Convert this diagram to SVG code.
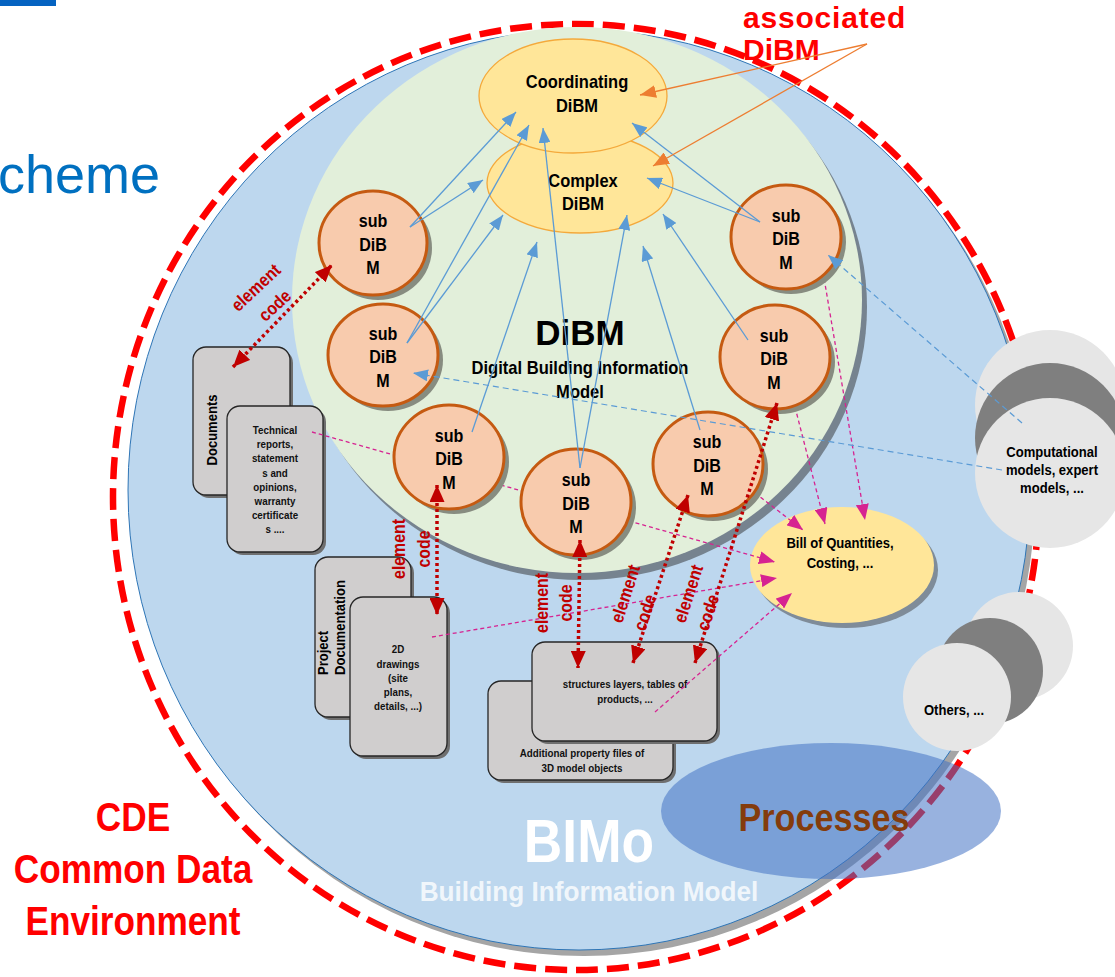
<svg xmlns="http://www.w3.org/2000/svg" width="1115" height="977" viewBox="0 0 1115 977">
<style>
text{font-family:"Liberation Sans",Arial,sans-serif;font-weight:bold}
.sub{fill:#F8CBAD;stroke:#C55A11;stroke-width:3}
.subsh{fill:#878C80}
.subt{font-size:18.5px;fill:#000;text-anchor:middle}
.box{fill:#D0CECE;stroke:#262626;stroke-width:1.3}
.boxsh{fill:#6F6F6F}
.bt{font-size:11px;fill:#111;text-anchor:middle}
.blue{stroke:#5B9BD5;stroke-width:1.3;fill:none;marker-end:url(#mb)}
.bdash{stroke:#5B9BD5;stroke-width:1.2;fill:none;stroke-dasharray:6 4;marker-end:url(#mb)}
.mag{stroke:#D62391;stroke-width:1.3;fill:none;stroke-dasharray:4 3;marker-end:url(#mm)}
.org{stroke:#ED7D31;stroke-width:1.3;fill:none;marker-end:url(#mo)}
.rdot{stroke:#C00000;stroke-width:3.5;fill:none;stroke-dasharray:3 3;marker-end:url(#mr);marker-start:url(#mr)}
.lbl{font-size:18px;fill:#C00000}
.gl{fill:#E6E6E6}
.gd{fill:#7F7F7F}
.ct{font-size:13px;fill:#000;text-anchor:middle}
.et{font-size:18.5px;fill:#000;text-anchor:middle}
</style>
<defs>
<marker id="mb" markerUnits="userSpaceOnUse" markerWidth="15" markerHeight="12" refX="15" refY="6" orient="auto"><path d="M0,0 L15,6 L0,12 z" fill="#5B9BD5"/></marker>
<marker id="mm" markerUnits="userSpaceOnUse" markerWidth="16" markerHeight="13" refX="16" refY="6.5" orient="auto"><path d="M0,0 L16,6.5 L0,13 z" fill="#D62391"/></marker>
<marker id="mo" markerUnits="userSpaceOnUse" markerWidth="16" markerHeight="13" refX="16" refY="6.5" orient="auto"><path d="M0,0 L16,6.5 L0,13 z" fill="#ED7D31"/></marker>
<marker id="mr" markerUnits="userSpaceOnUse" markerWidth="17" markerHeight="15" refX="17" refY="7.5" orient="auto-start-reverse"><path d="M0,0 L17,7.5 L0,15 z" fill="#C00000"/></marker>
</defs>

<rect x="0" y="0" width="56" height="6" fill="#0563C1"/>
<text x="-2" y="193" style="font-weight:normal;font-size:54px;fill:#0070C0">cheme</text>

<g id="bimo">
<ellipse cx="584" cy="496" rx="451" ry="460" fill="#A5A5A5"/>
<ellipse cx="579" cy="490" rx="451" ry="460" fill="#BDD7EE" stroke="#2E75B6" stroke-width="1"/>
</g>
<g id="cde">
<ellipse cx="576" cy="497" rx="463" ry="473" fill="none" stroke="#FF0000" stroke-width="6.5" stroke-dasharray="22 9"/>
</g>
<g id="bimo-label">
<text transform="translate(589,862) scale(0.86,1)" style="font-size:62px;fill:#FFFFFF;text-anchor:middle">BIMo</text>
<text transform="translate(589,901) scale(0.97,1)" style="font-size:27px;fill:#FFFFFF;fill-opacity:0.8;text-anchor:middle">Building Information Model</text>
</g>

<g id="dibm">
<ellipse cx="582" cy="307" rx="285" ry="273" fill="#76838F"/>
<ellipse cx="577" cy="300" rx="285" ry="273" fill="#E2EFDA"/>
<text x="580" y="345" style="font-size:35px;text-anchor:middle">DiBM</text>
<text transform="translate(580,374) scale(0.92,1)" style="font-size:18px;text-anchor:middle">Digital Building Information</text>
<text transform="translate(580,398) scale(0.92,1)" style="font-size:18px;text-anchor:middle">Model</text>
</g>

<g id="complex">
<ellipse cx="580" cy="183" rx="93" ry="50" fill="#FFE699" stroke="#F4A93B" stroke-width="1.3"/>
<g transform="translate(583,0) scale(0.89,1)"><text class="et" x="0" y="187">Complex</text><text class="et" x="0" y="210">DiBM</text></g>
</g>
<g id="coordinating">
<ellipse cx="573" cy="96" rx="94" ry="57" fill="#FFE699" stroke="#F4A93B" stroke-width="1.3"/>
<g transform="translate(577,0) scale(0.89,1)"><text class="et" x="0" y="88">Coordinating</text><text class="et" x="0" y="112">DiBM</text></g>
</g>

<g id="boq">
<ellipse cx="846" cy="570" rx="92" ry="58" fill="#7F8C99"/>
<ellipse cx="842" cy="565" rx="92" ry="58" fill="#FFE699"/>
<g transform="translate(840,0) scale(0.9,1)"><text x="0" y="548" style="font-size:14.5px;text-anchor:middle">Bill of Quantities,</text><text x="0" y="568" style="font-size:14.5px;text-anchor:middle">Costing, ...</text></g>
</g>

<g id="documents">
<rect x="196" y="350" width="97" height="148" rx="13" class="boxsh"/>
<rect x="193" y="347" width="97" height="148" rx="13" class="box"/>
<text transform="translate(217,430) rotate(-90) scale(0.9,1)" style="font-size:14.5px;text-anchor:middle">Documents</text>
</g>
<g id="technical">
<rect x="230" y="409" width="96" height="146" rx="13" class="boxsh"/>
<rect x="227" y="406" width="96" height="146" rx="13" class="box"/>
<g transform="translate(275,0) scale(0.89,1)">
<text class="bt" x="0" y="434">Technical</text>
<text class="bt" x="0" y="448">reports,</text>
<text class="bt" x="0" y="462">statement</text>
<text class="bt" x="0" y="477">s and</text>
<text class="bt" x="0" y="491">opinions,</text>
<text class="bt" x="0" y="505">warranty</text>
<text class="bt" x="0" y="519">certificate</text>
<text class="bt" x="0" y="533">s ....</text>
</g>
</g>
<g id="project">
<rect x="318" y="560" width="96" height="160" rx="13" class="boxsh"/>
<rect x="315" y="557" width="96" height="160" rx="13" class="box"/>
<text transform="translate(328,675) rotate(-90) scale(0.9,1)" style="font-size:14.5px">Project</text>
<text transform="translate(345,675) rotate(-90) scale(0.9,1)" style="font-size:14.5px">Documentation</text>
</g>
<g id="drawings">
<rect x="353" y="600" width="97" height="159" rx="13" class="boxsh"/>
<rect x="350" y="597" width="97" height="159" rx="13" class="box"/>
<g transform="translate(398,0) scale(0.89,1)">
<text class="bt" x="0" y="653">2D</text>
<text class="bt" x="0" y="668">drawings</text>
<text class="bt" x="0" y="682">(site</text>
<text class="bt" x="0" y="696">plans,</text>
<text class="bt" x="0" y="710">details, ...)</text>
</g>
</g>
<g id="additional">
<rect x="491" y="684" width="185" height="99" rx="13" class="boxsh"/>
<rect x="488" y="681" width="185" height="99" rx="13" class="box"/>
<g transform="translate(582,0) scale(0.89,1)">
<text class="bt" x="0" y="757">Additional property files of</text>
<text class="bt" x="0" y="772">3D model objects</text>
</g>
</g>
<g id="structures">
<rect x="535" y="645" width="185" height="99" rx="13" class="boxsh"/>
<rect x="532" y="642" width="185" height="99" rx="13" class="box"/>
<g transform="translate(625,0) scale(0.89,1)">
<text class="bt" x="0" y="688">structures layers, tables of</text>
<text class="bt" x="0" y="703">products, ...</text>
</g>
</g>

<g id="computational">
<circle cx="1050" cy="405" r="75" class="gl"/>
<circle cx="1050" cy="438" r="75" class="gd"/>
<circle cx="1050" cy="473" r="75" class="gl"/>
<g transform="translate(1052,0) scale(0.9,1)">
<text x="0" y="457" style="font-size:14.5px;text-anchor:middle">Computational</text>
<text x="0" y="475" style="font-size:14.5px;text-anchor:middle">models, expert</text>
<text x="0" y="493" style="font-size:14.5px;text-anchor:middle">models, ...</text>
</g>
</g>
<g id="others">
<circle cx="1019" cy="646" r="54" class="gl"/>
<circle cx="990" cy="671" r="53" class="gd"/>
<circle cx="957" cy="697" r="54" class="gl"/>
<text transform="translate(954,715) scale(0.9,1)" style="font-size:14.5px;text-anchor:middle">Others, ...</text>
</g>

<g id="connectors-boq">
<path class="mag" d="M312,432 L775,562"/>
<path class="mag" d="M432,637 L777,578"/>
<path class="mag" d="M655,712 L792,593"/>
<path class="mag" d="M755,493 L803,530"/>
<path class="mag" d="M795,407 L825,524"/>
<path class="mag" d="M823,272 L865,520"/>
</g>

<g id="sub1"><ellipse cx="378" cy="248" rx="54" ry="52" class="subsh"/><ellipse cx="373" cy="243" rx="54" ry="52" class="sub"/>
<g transform="translate(373,0) scale(0.87,1)"><text class="subt" x="0" y="227">sub</text><text class="subt" x="0" y="251">DiB</text><text class="subt" x="0" y="274">M</text></g></g>
<g id="sub2"><ellipse cx="388" cy="360" rx="55" ry="51" class="subsh"/><ellipse cx="383" cy="355" rx="55" ry="51" class="sub"/>
<g transform="translate(383,0) scale(0.87,1)"><text class="subt" x="0" y="340">sub</text><text class="subt" x="0" y="363">DiB</text><text class="subt" x="0" y="387">M</text></g></g>
<g id="sub3"><ellipse cx="454" cy="462" rx="55" ry="52" class="subsh"/><ellipse cx="449" cy="457" rx="55" ry="52" class="sub"/>
<g transform="translate(449,0) scale(0.87,1)"><text class="subt" x="0" y="442">sub</text><text class="subt" x="0" y="465">DiB</text><text class="subt" x="0" y="489">M</text></g></g>
<g id="sub4"><ellipse cx="581" cy="507" rx="55" ry="53" class="subsh"/><ellipse cx="576" cy="502" rx="55" ry="53" class="sub"/>
<g transform="translate(576,0) scale(0.87,1)"><text class="subt" x="0" y="486">sub</text><text class="subt" x="0" y="510">DiB</text><text class="subt" x="0" y="533">M</text></g></g>
<g id="sub5"><ellipse cx="713" cy="469" rx="55" ry="52" class="subsh"/><ellipse cx="708" cy="464" rx="55" ry="52" class="sub"/>
<g transform="translate(707,0) scale(0.87,1)"><text class="subt" x="0" y="448">sub</text><text class="subt" x="0" y="472">DiB</text><text class="subt" x="0" y="495">M</text></g></g>
<g id="sub6"><ellipse cx="780" cy="362" rx="55" ry="52" class="subsh"/><ellipse cx="775" cy="357" rx="55" ry="52" class="sub"/>
<g transform="translate(774,0) scale(0.87,1)"><text class="subt" x="0" y="342">sub</text><text class="subt" x="0" y="365">DiB</text><text class="subt" x="0" y="389">M</text></g></g>
<g id="sub7"><ellipse cx="791" cy="242" rx="55" ry="52" class="subsh"/><ellipse cx="786" cy="237" rx="55" ry="52" class="sub"/>
<g transform="translate(786,0) scale(0.87,1)"><text class="subt" x="0" y="222">sub</text><text class="subt" x="0" y="245">DiB</text><text class="subt" x="0" y="269">M</text></g></g>

<g id="connectors-blue">
<path class="blue" d="M410,227 L516,112"/>
<path class="blue" d="M410,227 L483,180"/>
<path class="blue" d="M407,343 L529,125"/>
<path class="blue" d="M407,343 L503,215"/>
<path class="blue" d="M472,432 L537,242"/>
<path class="blue" d="M580,468 L543,128"/>
<path class="blue" d="M580,468 L627,215"/>
<path class="blue" d="M700,430 L643,246"/>
<path class="blue" d="M748,340 L663,214"/>
<path class="blue" d="M760,222 L632,123"/>
<path class="blue" d="M760,222 L647,178"/>
<path class="bdash" d="M1002,470 L413,373"/>
<path class="bdash" d="M1022,423 L828,255"/>
</g>

<g id="processes">
<ellipse cx="831" cy="811" rx="170" ry="68" fill="#4472C4" fill-opacity="0.55"/>
<text transform="translate(824,831) scale(0.9,1)" style="font-size:38px;fill:#843C0C;text-anchor:middle">Processes</text>
</g>

<g id="associated">
<text x="743" y="28" style="font-size:30px;fill:#FF0000;letter-spacing:0.8px">associated</text>
<text x="743" y="60" style="font-size:30px;fill:#FF0000">DiBM</text>
</g>
<g id="connectors-associated">
<path class="org" d="M867,44 L640,95"/>
<path class="org" d="M867,44 L653,166"/>
</g>

<g id="connectors-element-code">
<path class="rdot" d="M233,367 L332,265"/>
<path class="rdot" d="M437,485 L437,615"/>
<path class="rdot" d="M580,540 L578,668"/>
<path class="rdot" d="M688,495 L633,663"/>
<path class="rdot" d="M777,403 L695,663"/>
<text class="lbl" transform="translate(260,292) rotate(-43) scale(0.88,1)" text-anchor="middle">element</text>
<text class="lbl" transform="translate(279,310) rotate(-43) scale(0.88,1)" text-anchor="middle">code</text>
<text class="lbl" transform="translate(405,549) rotate(-90) scale(0.88,1)" text-anchor="middle">element</text>
<text class="lbl" transform="translate(430,549) rotate(-90) scale(0.88,1)" text-anchor="middle">code</text>
<text class="lbl" transform="translate(548,603) rotate(-90) scale(0.88,1)" text-anchor="middle">element</text>
<text class="lbl" transform="translate(572,603) rotate(-90) scale(0.88,1)" text-anchor="middle">code</text>
<text class="lbl" transform="translate(622,624) rotate(-72) scale(0.88,1)">element</text>
<text class="lbl" transform="translate(645,632) rotate(-72) scale(0.88,1)">code</text>
<text class="lbl" transform="translate(685,624) rotate(-72) scale(0.88,1)">element</text>
<text class="lbl" transform="translate(708,632) rotate(-72) scale(0.88,1)">code</text>
</g>

<g id="cde-label">
<g transform="translate(133,0) scale(0.88,1)">
<text x="0" y="831" style="font-size:40px;fill:#FF0000;text-anchor:middle">CDE</text>
<text x="0" y="883" style="font-size:40px;fill:#FF0000;text-anchor:middle">Common Data</text>
<text x="0" y="935" style="font-size:40px;fill:#FF0000;text-anchor:middle">Environment</text>
</g>
</g>
</svg>
